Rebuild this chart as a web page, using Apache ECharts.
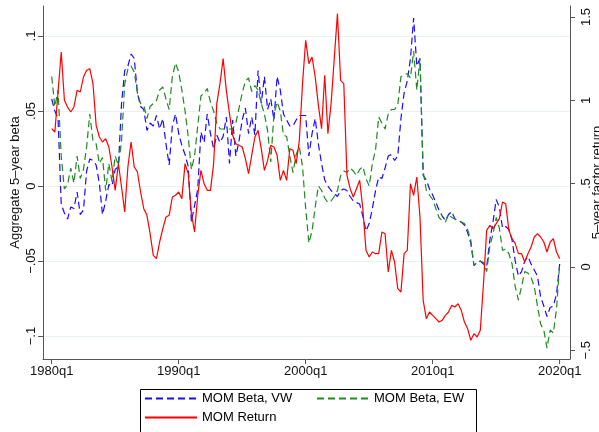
<!DOCTYPE html>
<html><head><meta charset="utf-8">
<script src="https://cdn.jsdelivr.net/npm/echarts@6/dist/echarts.min.js"></script>
<style>html,body{margin:0;padding:0;background:#fff}#c{width:599px;height:432px}</style>
</head><body><div id="c"></div>
<script>
// Quarterly data, 1980q1 .. 2020q1 (index 0 = 1980q1)
const startYear = 1980;
const xTickQuarters = [0, 40, 80, 120, 160];
const leftTicks = [-0.1, -0.05, 0, 0.05, 0.1];
const leftTickLabels = ['\u2212.1', '\u2212.05', '0', '.05', '.1'];
const rightTicks = [-0.5, 0, 0.5, 1, 1.5];
const rightTickLabels = ['\u2212.5', '0', '.5', '1', '1.5'];
const seriesNames = ['MOM Beta, VW', 'MOM Beta, EW', 'MOM Return'];

const betaVW = [
 0.058,0.050,0.045,-0.012,-0.018,-0.022,-0.014,-0.015,-0.004,-0.019,
 -0.016,0.010,0.018,0.017,0.014,0.002,-0.019,-0.010,0.001,0.000,
 0.011,0.013,0.055,0.077,0.080,0.088,0.085,0.062,0.053,0.051,
 0.037,0.042,0.040,0.047,0.038,0.045,0.028,0.014,0.040,0.048,
 0.035,0.027,0.021,0.013,-0.024,-0.013,-0.002,0.036,0.029,0.048,
 0.035,0.025,0.034,0.029,0.033,0.046,0.015,0.044,0.020,0.030,
 0.044,0.052,0.035,0.046,0.034,0.077,0.055,0.073,0.051,0.058,
 0.044,0.073,0.064,0.048,0.044,0.040,0.040,0.044,0.047,0.047,
 0.047,0.020,0.035,0.045,0.028,0.015,0.004,0.000,-0.003,-0.005,
 -0.007,-0.003,-0.002,-0.003,-0.007,-0.010,-0.011,-0.012,-0.020,-0.030,
 -0.025,-0.015,-0.003,0.006,0.005,0.012,0.020,0.021,0.017,0.020,
 0.045,0.062,0.070,0.085,0.112,0.080,0.085,0.007,0.004,-0.002,
 -0.006,-0.011,-0.016,-0.020,-0.023,-0.019,-0.017,-0.022,-0.023,-0.024,
 -0.026,-0.031,-0.038,-0.053,-0.051,-0.050,-0.052,-0.054,-0.036,-0.024,
 -0.009,-0.014,-0.028,-0.027,-0.029,-0.036,-0.050,-0.060,-0.057,-0.050,
 -0.047,-0.052,-0.056,-0.060,-0.074,-0.080,-0.087,-0.081,-0.080,-0.072,
 -0.052
];
const betaEW = [
 0.073,0.053,0.064,0.020,-0.002,0.001,0.012,0.002,0.020,0.005,
 0.011,0.026,0.048,0.030,0.028,0.015,0.019,-0.003,0.015,0.003,
 0.020,0.014,0.030,0.068,0.078,0.080,0.076,0.062,0.055,0.054,
 0.045,0.053,0.055,0.057,0.064,0.066,0.058,0.051,0.073,0.082,
 0.076,0.064,0.050,0.033,0.011,0.020,0.040,0.060,0.062,0.065,
 0.056,0.050,0.042,0.038,0.038,0.038,0.038,0.038,0.042,0.052,
 0.062,0.070,0.072,0.063,0.067,0.064,0.055,0.048,0.037,0.016,
 0.048,0.056,0.050,0.034,0.033,0.020,0.009,0.021,0.026,0.013,
 -0.015,-0.038,-0.030,-0.014,0.000,-0.003,-0.008,-0.011,-0.010,-0.007,
 -0.003,0.007,0.010,0.009,0.012,0.010,0.007,0.011,0.013,0.005,
 0.000,0.015,0.024,0.046,0.042,0.038,0.048,0.051,0.051,0.054,
 0.073,0.074,0.075,0.072,0.090,0.064,0.085,0.010,-0.003,-0.006,
 -0.009,-0.015,-0.021,-0.023,-0.024,-0.019,-0.021,-0.022,-0.023,-0.024,
 -0.025,-0.029,-0.036,-0.053,-0.051,-0.050,-0.051,-0.057,-0.040,-0.032,
 -0.021,-0.028,-0.043,-0.042,-0.045,-0.052,-0.067,-0.076,-0.067,-0.057,
 -0.058,-0.061,-0.067,-0.080,-0.092,-0.096,-0.108,-0.096,-0.098,-0.082,
 -0.052
];
const momReturn = [
 0.83,0.81,1.05,1.29,1.00,0.96,0.93,0.96,1.06,1.05,
 1.14,1.18,1.19,1.10,0.85,0.78,0.75,0.77,0.72,0.60,
 0.46,0.62,0.48,0.33,0.60,0.75,0.60,0.57,0.45,0.35,
 0.31,0.20,0.07,0.05,0.15,0.23,0.30,0.31,0.42,0.43,
 0.45,0.41,0.62,0.56,0.32,0.21,0.43,0.58,0.50,0.46,
 0.46,0.62,0.98,1.10,1.25,1.06,0.92,0.79,0.74,0.73,
 0.72,0.65,0.56,0.67,0.78,0.82,0.71,0.58,0.64,0.73,
 0.72,0.67,0.52,0.58,0.52,0.71,0.70,0.62,0.76,1.10,
 1.36,1.22,1.26,1.14,0.97,0.83,1.15,0.80,0.98,1.25,
 1.52,1.12,1.10,0.55,0.47,0.42,0.47,0.52,0.35,0.10,
 0.06,0.09,0.08,0.08,0.21,0.20,-0.03,0.10,0.03,-0.13,
 -0.15,0.08,0.10,0.50,0.43,0.54,0.30,-0.20,-0.31,-0.27,
 -0.29,-0.31,-0.33,-0.32,-0.29,-0.27,-0.23,-0.24,-0.22,-0.26,
 -0.33,-0.37,-0.44,-0.40,-0.42,-0.38,-0.10,0.22,0.25,0.23,
 0.26,0.29,0.39,0.38,0.22,0.17,0.14,0.08,0.08,0.03,
 0.08,0.12,0.18,0.20,0.18,0.15,0.09,0.15,0.17,0.09,
 0.05
];

const FONT = '"Liberation Sans", Arial, Helvetica, sans-serif';
const toPairs = arr => arr.map((v, i) => [i, v]);
const qLabel = q => (startYear + Math.floor(q / 4)) + 'q' + (q % 4 + 1);

const chart = echarts.init(document.getElementById('c'), null, {renderer: 'canvas'});
const axisColor = '#555';
const lineW = 1.2;
const dash = [7, 4];

function legendFor(name, left, top) {
  return {
    data: [name], left: left, top: top, orient: 'horizontal',
    itemWidth: 52, itemHeight: 14, padding: 0, selectedMode: false,
    itemStyle: {opacity: 0, borderWidth: 0},
    textStyle: {fontFamily: FONT, fontSize: 13, color: '#000'}
  };
}

chart.setOption({
  animation: false,
  backgroundColor: '#fff',
  textStyle: {fontFamily: FONT},
  grid: {left: 43, right: 29, top: 6, bottom: 73, containLabel: false, outerBoundsMode: 'none'},
  legend: [
    legendFor(seriesNames[0], 144, 392),
    legendFor(seriesNames[1], 316, 392),
    legendFor(seriesNames[2], 144, 411)
  ],
  graphic: [{
    type: 'rect', left: 138, top: 387,
    shape: {width: 336, height: 43},
    style: {fill: 'none', stroke: '#000', lineWidth: 1}
  }],
  xAxis: {
    type: 'value', min: -2.74, max: 163.25,
    axisLine: {show: true, onZero: false, lineStyle: {color: axisColor, width: 1}},
    axisTick: {show: true, length: 5, customValues: xTickQuarters, lineStyle: {color: axisColor}},
    axisLabel: {customValues: xTickQuarters, formatter: v => qLabel(Math.round(v)),
      fontSize: 13, color: '#111', margin: 6, fontFamily: FONT},
    splitLine: {show: false}
  },
  yAxis: [{
    type: 'value', position: 'left', min: -0.1153, max: 0.12,
    name: 'Aggregate 5\u2013year beta', nameLocation: 'middle', nameGap: 21, nameRotate: 90,
    nameMoveOverlap: false,
    nameTextStyle: {fontSize: 13, color: '#111', fontFamily: FONT},
    axisLine: {show: true, onZero: false, lineStyle: {color: axisColor, width: 1}},
    axisTick: {show: true, length: 5, customValues: leftTicks, lineStyle: {color: axisColor}},
    axisLabel: {customValues: leftTicks, rotate: 90, margin: 5, fontSize: 13, color: '#111', fontFamily: FONT,
      formatter: v => { const i = leftTicks.findIndex(t => Math.abs(t - v) < 1e-9); return i >= 0 ? leftTickLabels[i] : ''; }},
    splitLine: {show: true, lineStyle: {color: '#e9f1f3', width: 1}}
  }, {
    type: 'value', position: 'right', min: -0.552, max: 1.566,
    name: '5\u2013year factor return', nameLocation: 'middle', nameGap: 21, nameRotate: 90,
    nameMoveOverlap: false,
    nameTextStyle: {fontSize: 13, color: '#111', fontFamily: FONT},
    axisLine: {show: true, onZero: false, lineStyle: {color: axisColor, width: 1}},
    axisTick: {show: true, length: 5, customValues: rightTicks, lineStyle: {color: axisColor}},
    axisLabel: {customValues: rightTicks, rotate: 90, margin: 10, fontSize: 13, color: '#111', fontFamily: FONT,
      formatter: v => { const i = rightTicks.findIndex(t => Math.abs(t - v) < 1e-9); return i >= 0 ? rightTickLabels[i] : ''; }},
    splitLine: {show: false}
  }],
  series: [{
    name: seriesNames[0], type: 'line', yAxisIndex: 0, data: toPairs(betaVW),
    showSymbol: false, symbol: 'none', color: '#1a0aff',
    lineStyle: {color: '#1a0aff', width: lineW, type: dash}
  }, {
    name: seriesNames[1], type: 'line', yAxisIndex: 0, data: toPairs(betaEW),
    showSymbol: false, symbol: 'none', color: '#1f8a1f',
    lineStyle: {color: '#1f8a1f', width: lineW, type: dash}
  }, {
    name: seriesNames[2], type: 'line', yAxisIndex: 1, data: toPairs(momReturn),
    showSymbol: false, symbol: 'none', color: '#ff0000',
    lineStyle: {color: '#ff0000', width: lineW, type: 'solid'}
  }]
});
</script>
</body></html>
